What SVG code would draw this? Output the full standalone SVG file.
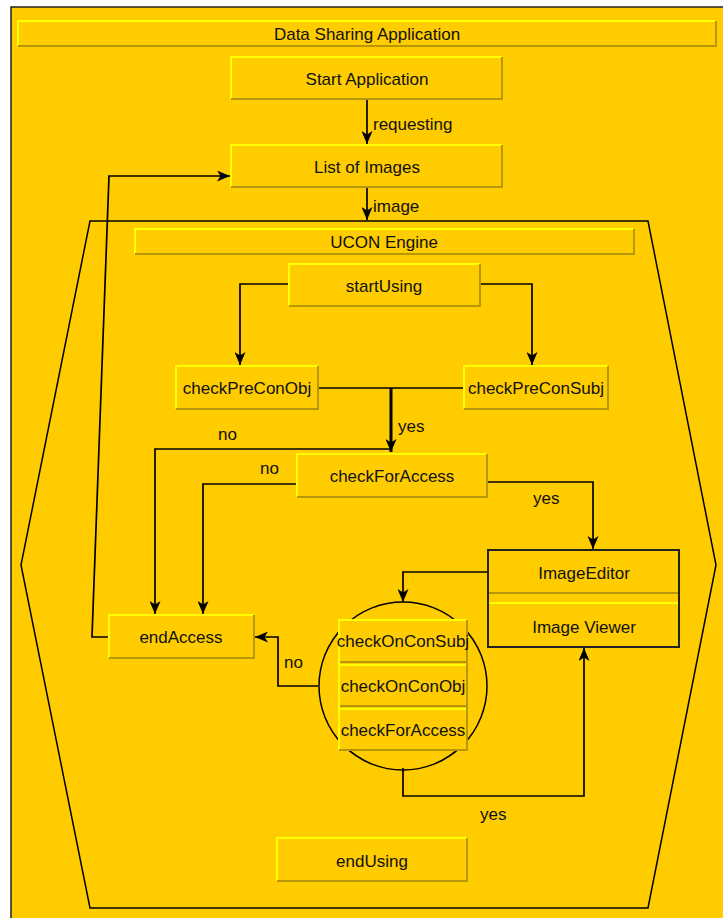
<svg xmlns="http://www.w3.org/2000/svg" width="723" height="918" viewBox="0 0 723 918">
<defs>
<marker id="ah" viewBox="0 0 13 11" refX="13" refY="5.5" markerWidth="13" markerHeight="11" markerUnits="userSpaceOnUse" orient="auto">
<path d="M0,0 L13,5.5 L0,11 L3.5,5.5 z" fill="#000"/>
</marker>
<style>
text{font-family:"Liberation Sans",Arial,sans-serif;font-size:17px;fill:#111;}
.c{text-anchor:middle;}
.fill{fill:#FFCC00;stroke:none;}
.hi{fill:none;stroke:#FFFF00;stroke-width:2;}
.lo{fill:none;stroke:#B8960A;stroke-width:2;}
.ln{fill:none;stroke:#000;stroke-width:1.7;}
.ar{fill:none;stroke:#000;stroke-width:1.7;marker-end:url(#ah);}
</style>
</defs>
<rect x="0" y="0" width="723" height="918" fill="#fff"/>
<rect x="11" y="7" width="730" height="930" fill="#FFCC00" stroke="#222" stroke-width="1.5"/>

<g id="title">
<rect class="fill" x="18" y="21" width="698" height="25"/>
<polyline class="hi" points="18,46 18,21 716,21"/>
<polyline class="lo" points="716,21 716,46 18,46"/>
<text class="c" x="367" y="40">Data Sharing Application</text>
</g>

<g id="ucon">
<polygon points="90,221 648,221 716,565 648,908 90,908 21,565" fill="none" stroke="#000" stroke-width="1.5"/>
</g>

<g id="ucon-title">
<rect class="fill" x="135" y="229" width="499" height="25"/>
<polyline class="hi" points="135,254 135,229 634,229"/>
<polyline class="lo" points="634,229 634,254 135,254"/>
<text class="c" x="384" y="248">UCON Engine</text>
</g>

<g id="connectors">
<line class="ar" x1="367" y1="99" x2="367" y2="144"/>
<line class="ar" x1="367" y1="187" x2="367" y2="220"/>
<polyline class="ar" points="109,637 92,637 109,176 230,176"/>
<polyline class="ar" points="289,284 240,284 240,365"/>
<polyline class="ar" points="480,284 532,284 532,365"/>
<line class="ln" x1="318" y1="388" x2="464" y2="388"/>
<line x1="391" y1="388" x2="391" y2="452" stroke="#000" stroke-width="3" marker-end="url(#ah)"/>
<polyline class="ar" points="391,449 155,449 155,614"/>
<polyline class="ar" points="297,484 203,484 203,614"/>
<polyline class="ar" points="487,482 593,482 593,549"/>
<polyline class="ar" points="488,572 403,572 403,602"/>
<polyline class="ar" points="318,686 278,686 278,637 255,637"/>
<polyline class="ar" points="403,768 403,796 584,796 584,648"/>
</g>

<g id="labels">
<text x="373" y="130">requesting</text>
<text x="373" y="212">image</text>
<text x="398" y="432">yes</text>
<text x="218" y="440">no</text>
<text x="260" y="474">no</text>
<text x="533" y="504">yes</text>
<text x="284" y="668">no</text>
<text x="480" y="820">yes</text>
</g>

<g id="start-application">
<rect class="fill" x="231" y="57" width="271" height="42"/>
<polyline class="hi" points="231,99 231,57 502,57"/>
<polyline class="lo" points="502,57 502,99 231,99"/>
<text class="c" x="367" y="85">Start Application</text>
</g>

<g id="list-of-images">
<rect class="fill" x="231" y="145" width="271" height="42"/>
<polyline class="hi" points="231,187 231,145 502,145"/>
<polyline class="lo" points="502,145 502,187 231,187"/>
<text class="c" x="367" y="173">List of Images</text>
</g>

<g id="startUsing">
<rect class="fill" x="289" y="264" width="191" height="42"/>
<polyline class="hi" points="289,306 289,264 480,264"/>
<polyline class="lo" points="480,264 480,306 289,306"/>
<text class="c" x="384" y="292">startUsing</text>
</g>

<g id="checkPreConObj">
<rect class="fill" x="176" y="366" width="142" height="43"/>
<polyline class="hi" points="176,409 176,366 318,366"/>
<polyline class="lo" points="318,366 318,409 176,409"/>
<text class="c" x="247" y="394">checkPreConObj</text>
</g>

<g id="checkPreConSubj">
<rect class="fill" x="464" y="366" width="144" height="43"/>
<polyline class="hi" points="464,409 464,366 608,366"/>
<polyline class="lo" points="608,366 608,409 464,409"/>
<text class="c" x="536" y="394">checkPreConSubj</text>
</g>

<g id="checkForAccess">
<rect class="fill" x="297" y="454" width="190" height="43"/>
<polyline class="hi" points="297,497 297,454 487,454"/>
<polyline class="lo" points="487,454 487,497 297,497"/>
<text class="c" x="392" y="482">checkForAccess</text>
</g>

<g id="endAccess">
<rect class="fill" x="109" y="615" width="145" height="43"/>
<polyline class="hi" points="109,658 109,615 254,615"/>
<polyline class="lo" points="254,615 254,658 109,658"/>
<text class="c" x="181" y="643">endAccess</text>
</g>

<g id="image-editor">
<rect x="488" y="550" width="191" height="97" fill="#FFCC00" stroke="#222" stroke-width="2"/>
<line x1="489" y1="593" x2="678" y2="593" stroke="#B8960A" stroke-width="2"/>
<line x1="489" y1="603" x2="678" y2="603" stroke="#FFFF00" stroke-width="2"/>
<text class="c" x="584" y="579">ImageEditor</text>
<text class="c" x="584" y="633">Image Viewer</text>
</g>

<g id="ongoing-checks">
<circle cx="403" cy="686" r="84" fill="none" stroke="#000" stroke-width="1.5"/>
<rect class="fill" x="339" y="620" width="128" height="130"/>
<polyline class="hi" points="339,750 339,620 467,620"/>
<polyline class="lo" points="467,620 467,750 339,750"/>
<line x1="340" y1="662" x2="466" y2="662" stroke="#B8960A" stroke-width="2"/>
<line x1="340" y1="665" x2="466" y2="665" stroke="#FFFF00" stroke-width="2"/>
<line x1="340" y1="706" x2="466" y2="706" stroke="#B8960A" stroke-width="2"/>
<line x1="340" y1="709" x2="466" y2="709" stroke="#FFFF00" stroke-width="2"/>
<text class="c" x="403" y="647">checkOnConSubj</text>
<text class="c" x="403" y="692">checkOnConObj</text>
<text class="c" x="403" y="736">checkForAccess</text>
</g>

<g id="endUsing">
<rect class="fill" x="277" y="838" width="190" height="43"/>
<polyline class="hi" points="277,881 277,838 467,838"/>
<polyline class="lo" points="467,838 467,881 277,881"/>
<text class="c" x="372" y="867">endUsing</text>
</g>
</svg>
